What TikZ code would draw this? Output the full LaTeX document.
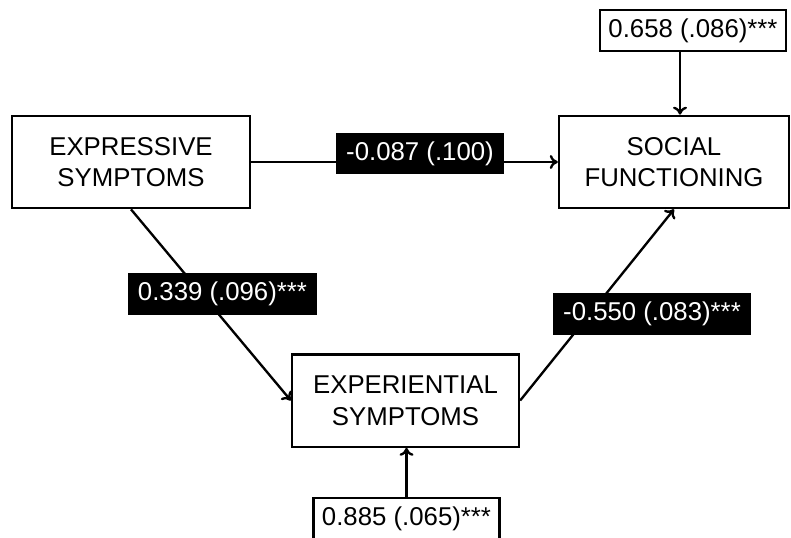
\documentclass[tikz,border=0pt]{standalone}
\usepackage{fontspec}
\setmainfont{Liberation Sans}
\usepackage{tikz}
\usetikzlibrary{arrows.meta,positioning}

\begin{document}
\begin{tikzpicture}[
    x=0.03cm, y=-0.03cm,
    box/.style={rectangle, draw=black, line width=2pt, minimum height=2.77cm, align=center, font=\fontsize{22}{27}\selectfont},
    errbox/.style={rectangle, draw=black, line width=2pt, minimum height=1.23cm, inner xsep=0.25cm, font=\fontsize{22}{27}\selectfont},
    coef/.style={rectangle, fill=black, text=white, minimum height=1.25cm, inner xsep=0.3cm, font=\fontsize{22}{27}\selectfont},
    arr/.style={line width=2pt, -{To[length=2.4mm,width=4.2mm]}}
]
\useasboundingbox (0,0) rectangle (791,538);

% Variables
\node[box, minimum width=7.14cm] (expr) at (131,162) {EXPRESSIVE\\SYMPTOMS};
\node[box, minimum width=6.9cm] (social) at (674,162) {SOCIAL\\FUNCTIONING};
\node[box, minimum width=6.81cm] (exper) at (405.5,400.5) {EXPERIENTIAL\\SYMPTOMS};

% Residuals
\node[errbox] (resS) at (693,30.5) {0.658 (.086)***};
\node[errbox] (resE) at (406.5,518.5) {0.885 (.065)***};

% Paths
\draw[arr] (expr.east) -- (social.west);
\draw[arr] (expr.south) -- (exper.west);
\draw[arr] (exper.east) -- (social.south);
\draw[arr] (resS.south) ++(-13,0) coordinate (rs) -- (rs |- social.north);
\draw[arr] (resE.north) -- (resE.north |- exper.south);

% Coefficients
\node[coef] (c1) at (420,153.5) {-0.087 (.100)};
\node[coef] (c2) at (222.5,294) {0.339 (.096)***};
\node[coef] (c3) at (652,314) {-0.550 (.083)***};

\end{tikzpicture}
\end{document}
